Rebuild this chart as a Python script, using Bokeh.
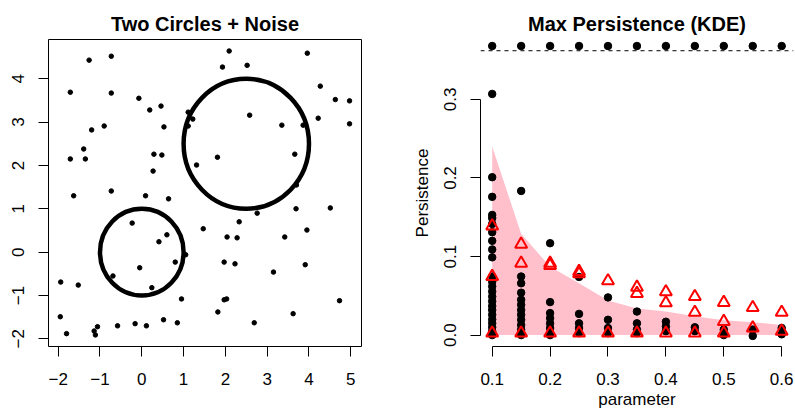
from bokeh.plotting import figure
from bokeh.layouts import row
from bokeh.models import Range1d, FixedTicker, Span
from bokeh.embed import file_html
from bokeh.resources import INLINE

FONT = "Liberation Sans"

# ---------------- left panel data ----------------
noise_x = [-1.26, -0.73, 2.09, 3.96, 2.52, 1.93, -1.71, -0.73, 4.27, 4.63, 4.97,
           -0.07, 0.19, 0.46, 1.11, 1.22, 1.11, 2.58, 4.22, 4.97, -0.90, -1.20,
           0.53, 3.35, 3.86, -1.39, -1.71, -1.35, 0.29, 0.48, 1.81, 3.66, 0.27,
           1.31, -1.63, -0.73, 0.09, 0.64, 3.70, 3.69, 2.76, 4.51, -0.23, 2.33,
           1.47, 3.95, 0.60, 0.41, 2.04, 2.28, 3.42, 1.05, 0.80, 1.97, 2.23,
           3.91, -0.05, 3.15, -1.94, -1.52, -0.69, 0.24, 0.95, 1.97, 2.03, 4.73,
           -1.95, 1.82, 3.62, -1.80, -1.14, -1.11, -1.06, -0.58, -0.16, 0.11,
           0.52, 0.85, 2.69]
noise_y = [4.43, 4.52, 4.64, 4.59, 4.31, 4.27, 3.69, 3.67, 3.83, 3.52, 3.49,
           3.55, 3.28, 3.37, 3.23, 3.07, 2.91, 3.16, 3.09, 2.96, 2.91, 2.82,
           2.89, 2.93, 2.93, 2.38, 2.15, 2.15, 2.26, 2.24, 2.19, 2.26, 1.87,
           2.01, 1.30, 1.41, 1.30, 1.23, 1.55, 1.00, 0.90, 1.02, 0.67, 0.70,
           0.54, 0.51, 0.40, 0.24, 0.35, 0.33, 0.35, -0.06, -0.23, -0.23, -0.27,
           -0.29, -0.36, -0.46, -0.69, -0.76, -0.55, -0.82, -1.08, -1.10, -1.08, -1.12,
           -1.49, -1.38, -1.42, -1.88, -1.82, -1.91, -1.72, -1.70, -1.65, -1.70,
           -1.56, -1.63, -1.63]
circle_cx = [0.0, 2.5]
circle_cy = [0.0, 2.5]
circle_r = [1.0, 1.5]
left_xticks = [-2, -1, 0, 1, 2, 3, 4, 5]
left_yticks = [-2, -1, 0, 1, 2, 3, 4]

# ---------------- right panel data ----------------
params = [0.10, 0.15, 0.20, 0.25, 0.30, 0.35, 0.40, 0.45, 0.50, 0.55, 0.60]
param_labels = ["0.1", "0.2", "0.3", "0.4", "0.5", "0.6"]
param_ticks = [0.1, 0.2, 0.3, 0.4, 0.5, 0.6]
band_upper = [0.240, 0.129, 0.087, 0.066, 0.044, 0.034, 0.030, 0.024, 0.019, 0.0165, 0.013]
max_marks = [0.368, 0.368, 0.368, 0.368, 0.368, 0.368, 0.368, 0.368, 0.368, 0.368, 0.368]
max_line = 0.362
pers_ticks = [0.0, 0.1, 0.2, 0.3]
pers_labels = ["0.0", "0.1", "0.2", "0.3"]

dot_values = [
    [0.307, 0.201, 0.176, 0.153, 0.149, 0.1415, 0.131, 0.120, 0.109, 0.099, 0.0746,
     0.068, 0.062, 0.0555, 0.049, 0.043, 0.037, 0.032, 0.026, 0.020, 0.015, 0.010, 0.005, 0.0],
    [0.1835, 0.0746, 0.066, 0.054, 0.045, 0.0386, 0.032, 0.026, 0.0195, 0.013, 0.007, 0.0],
    [0.117, 0.042, 0.028, 0.0216, 0.015, 0.009, 0.0025, 0.0],
    [0.074, 0.027, 0.015, 0.009, 0.0025],
    [0.048, 0.0195, 0.009, 0.0025],
    [0.030, 0.015, 0.007, 0.0025],
    [0.017, 0.011, 0.005],
    [0.010, 0.005],
    [0.007, 0.0],
    [0.007, -0.001],
    [0.009, 0.001],
]
tri_values = [
    [0.139, 0.0746, 0.0025],
    [0.1157, 0.0915, 0.0025],
    [0.0915, 0.0886, 0.0025],
    [0.081, 0.078, 0.0025],
    [0.069, 0.0025],
    [0.061, 0.053, 0.0025],
    [0.055, 0.041, 0.0025],
    [0.049, 0.029, 0.0025],
    [0.0415, 0.0174, 0.0025],
    [0.035, 0.009],
    [0.029, 0.005],
]


def minus(v):
    return str(v).replace("-", "\u2212")


def style_axes(p, tick_standoff_x, tick_standoff_y):
    for ax in (p.xaxis[0], p.yaxis[0]):
        ax.axis_line_color = "black"
        ax.axis_line_width = 1
        ax.major_tick_line_color = "black"
        ax.major_tick_in = 0
        ax.major_tick_out = 10
        ax.minor_tick_line_color = None
        ax.major_label_text_font = FONT
        ax.major_label_text_font_size = "17px"
        ax.major_label_text_color = "black"
        ax.axis_label_text_font = FONT
        ax.axis_label_text_font_size = "17px"
        ax.axis_label_text_font_style = "normal"
        ax.axis_label_text_color = "black"
    p.xaxis[0].major_label_standoff = tick_standoff_x
    p.yaxis[0].major_label_standoff = tick_standoff_y
    p.yaxis[0].major_label_orientation = "vertical"
    p.xgrid.visible = False
    p.ygrid.visible = False
    p.title.text_font = FONT
    p.title.text_font_size = "20px"
    p.title.text_font_style = "bold"
    p.title.text_color = "black"
    p.title.align = "center"
    p.title.standoff = 10
    p.background_fill_color = "white"
    p.border_fill_color = "white"


# ---------------- left figure ----------------
p1 = figure(frame_width=313, frame_height=307,
            min_border_left=48, min_border_right=27, min_border_top=39, min_border_bottom=68,
            x_range=Range1d(-2.232, 5.256), y_range=Range1d(-2.177, 4.906),
            title="Two Circles + Noise",
            output_backend="svg", toolbar_location=None)
style_axes(p1, 16, 14)
p1.outline_line_color = "black"
p1.outline_line_alpha = 1.0
p1.outline_line_width = 1
p1.xaxis[0].ticker = FixedTicker(ticks=left_xticks)
p1.yaxis[0].ticker = FixedTicker(ticks=left_yticks)
p1.xaxis[0].major_label_overrides = {t: minus(t) for t in left_xticks}
p1.yaxis[0].major_label_overrides = {t: minus(t) for t in left_yticks}
p1.xaxis[0].bounds = (left_xticks[0], left_xticks[-1])
p1.yaxis[0].bounds = (left_yticks[0], left_yticks[-1])

p1.ellipse(x=circle_cx, y=circle_cy,
           width=[2 * r for r in circle_r], height=[2 * r for r in circle_r],
           fill_color=None, line_color="black", line_width=4.5)
p1.scatter(noise_x, noise_y, size=4.5, color="black")

# ---------------- right figure ----------------
p2 = figure(frame_width=313, frame_height=307,
            min_border_left=92, min_border_right=2, min_border_top=39, min_border_bottom=68,
            x_range=Range1d(0.0798, 0.6204), y_range=Range1d(-0.0145, 0.3763),
            title="Max Persistence (KDE)",
            x_axis_label="parameter", y_axis_label="Persistence",
            output_backend="svg", toolbar_location=None)
style_axes(p2, 16, 14)
p2.outline_line_color = None
p2.xaxis[0].ticker = FixedTicker(ticks=param_ticks)
p2.yaxis[0].ticker = FixedTicker(ticks=pers_ticks)
p2.xaxis[0].major_label_overrides = dict(zip(param_ticks, param_labels))
p2.yaxis[0].major_label_overrides = dict(zip(pers_ticks, pers_labels))
p2.xaxis[0].bounds = (param_ticks[0], param_ticks[-1])
p2.yaxis[0].bounds = (pers_ticks[0], pers_ticks[-1])
p2.xaxis[0].axis_label_standoff = 2
p2.yaxis[0].axis_label_standoff = 10

p2.varea(x=params, y1=[0.0 for _ in params], y2=band_upper, color="#FFC0CB")

dx, dy = [], []
for prm, vals in zip(params, dot_values):
    for v in vals:
        dx.append(prm)
        dy.append(v)
p2.scatter(dx, dy, size=7.5, color="black")

tx, ty = [], []
for prm, vals in zip(params, tri_values):
    for v in vals:
        tx.append(prm)
        ty.append(v)
p2.scatter(tx, ty, marker="triangle", size=12, fill_color=None,
           line_color="red", line_width=2)

p2.add_layout(Span(location=max_line, dimension="width", line_color="black",
                   line_width=1, line_dash="4 4"))
p2.scatter(params, max_marks, size=7.5, color="black")

layout = row(p1, p2)
open("out.html", "w").write(file_html(layout, INLINE))
